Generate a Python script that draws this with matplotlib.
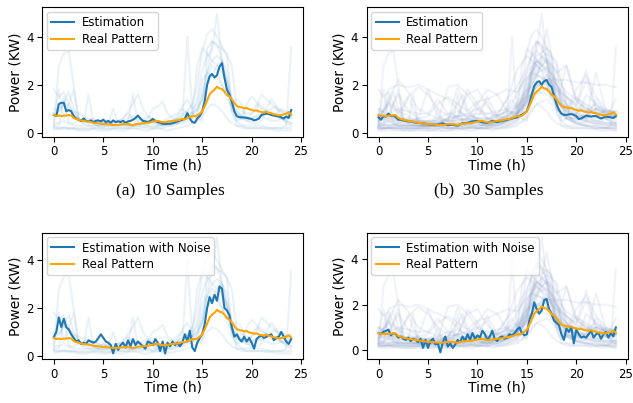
import numpy as np
import matplotlib
matplotlib.use("Agg")
import matplotlib.pyplot as plt

# time axes: 15-min steps for estimates, 30-min / hourly for raw samples
hours_q = np.arange(97) * 0.25
hours_h = np.arange(49) * 0.5
hours_1 = np.arange(25) * 1.0

real_pattern = [
    0.75, 0.70, 0.72, 0.70, 0.72, 0.72, 0.74, 0.73, 0.62, 0.58, 0.55, 0.52,
    0.50, 0.48, 0.47, 0.45, 0.42, 0.41, 0.40, 0.38, 0.36, 0.37, 0.36, 0.34,
    0.33, 0.34, 0.33, 0.35, 0.36, 0.37, 0.37, 0.35, 0.32, 0.36, 0.38, 0.39,
    0.40, 0.41, 0.42, 0.44, 0.47, 0.49, 0.50, 0.47, 0.45, 0.44, 0.46, 0.48,
    0.50, 0.51, 0.52, 0.55, 0.58, 0.57, 0.62, 0.65, 0.70, 0.69, 0.72, 0.80,
    0.90, 1.10, 1.35, 1.60, 1.72, 1.80, 1.92, 1.85, 1.82, 1.72, 1.58, 1.52,
    1.40, 1.25, 1.12, 1.08, 1.06, 1.02, 1.04, 0.98, 0.96, 0.92, 0.94, 0.89,
    0.87, 0.84, 0.88, 0.83, 0.82, 0.77, 0.76, 0.73, 0.74, 0.77, 0.80, 0.86,
    0.77,
]

est_10 = [
    0.75, 0.70, 1.20, 1.25, 1.25, 0.90, 0.95, 0.90, 0.70, 0.60, 0.55, 0.50,
    0.60, 0.50, 0.48, 0.52, 0.45, 0.50, 0.52, 0.48, 0.55, 0.45, 0.50, 0.42,
    0.52, 0.45, 0.48, 0.45, 0.50, 0.42, 0.48, 0.50, 0.55, 0.62, 0.72, 0.60,
    0.50, 0.48, 0.45, 0.50, 0.58, 0.50, 0.45, 0.42, 0.38, 0.37, 0.38, 0.38,
    0.40, 0.44, 0.48, 0.52, 0.55, 0.60, 0.82, 0.60, 0.45, 0.42, 0.60, 0.70,
    0.90, 1.30, 2.00, 2.35, 2.45, 2.30, 2.40, 2.75, 2.90, 2.30, 1.80, 1.60,
    1.30, 0.90, 0.70, 0.65, 0.65, 0.64, 0.63, 0.60, 0.58, 0.52, 0.55, 0.60,
    0.75, 0.78, 0.80, 0.78, 0.75, 0.72, 0.70, 0.68, 0.65, 0.60, 0.68, 0.62,
    0.95,
]

est_30 = [
    0.65, 0.55, 0.70, 0.68, 0.80, 0.70, 0.72, 0.65, 0.55, 0.55, 0.52, 0.50,
    0.48, 0.47, 0.45, 0.43, 0.42, 0.41, 0.40, 0.38, 0.36, 0.35, 0.35, 0.34,
    0.35, 0.38, 0.40, 0.36, 0.32, 0.33, 0.35, 0.32, 0.30, 0.36, 0.40, 0.41,
    0.42, 0.45, 0.48, 0.49, 0.50, 0.47, 0.45, 0.43, 0.42, 0.46, 0.50, 0.47,
    0.45, 0.48, 0.50, 0.52, 0.55, 0.57, 0.60, 0.62, 0.65, 0.70, 0.75, 0.82,
    0.90, 1.20, 1.60, 1.95, 2.10, 2.15, 2.00, 2.15, 2.20, 2.00, 1.90, 1.55,
    1.20, 0.95, 0.80, 0.75, 0.75, 0.77, 0.78, 0.75, 0.70, 0.58, 0.60, 0.66,
    0.72, 0.70, 0.68, 0.70, 0.70, 0.65, 0.60, 0.64, 0.68, 0.66, 0.65, 0.62,
    0.70,
]

est_10_noise = [
    0.80, 1.00, 1.60, 1.20, 1.55, 1.20, 1.10, 0.90, 0.75, 0.60, 0.65, 0.50,
    0.55, 0.50, 0.65, 0.60, 0.55, 0.60, 0.75, 0.90, 0.75, 0.60, 0.55, 0.45,
    0.10, 0.50, 0.25, 0.45, 0.55, 0.35, 0.65, 0.40, 0.70, 0.45, 0.60, 0.50,
    0.40, 0.30, 0.60, 0.55, 0.45, 0.70, 0.55, 0.20, 0.60, 0.10, 0.55, 0.40,
    0.60, 0.45, 0.55, 0.40, 0.55, 0.90, 0.60, 1.05, 0.35, 0.20, 0.55, 0.75,
    0.90, 1.30, 2.00, 2.45, 2.20, 2.55, 2.30, 2.90, 2.80, 2.00, 1.90, 1.70,
    1.20, 0.80, 0.90, 0.70, 0.60, 0.80, 0.60, 0.75, 0.55, 0.30, 0.70, 0.80,
    0.85, 0.75, 0.80, 0.85, 0.90, 0.65, 0.75, 0.80, 1.00, 0.80, 0.60, 0.50,
    0.70,
]

est_30_noise = [
    0.75, 0.70, 0.80, 0.85, 0.90, 0.65, 0.75, 0.70, 0.55, 0.60, 0.50, 0.45,
    0.55, 0.40, 0.50, 0.45, 0.35, 0.50, 0.10, 0.45, 0.10, 0.40, 0.50, 0.25,
    0.30, -0.10, 0.35, 0.60, 0.15, 0.30, 0.10, 0.25, 0.45, 0.35, 0.60, 0.40,
    0.70, 0.45, 0.75, 0.50, 0.65, 0.55, 0.85, 0.70, 0.45, 0.60, 0.85, 0.50,
    0.40, 0.55, 0.60, 0.50, 0.55, 0.70, 0.65, 0.75, 0.90, 1.00, 0.75, 0.65,
    0.70, 1.30, 1.60, 2.10, 1.80, 1.60, 1.75, 2.20, 2.25, 1.80, 1.60, 1.30,
    1.20, 1.10, 0.70, 0.45, 0.95, 0.80, 1.00, 0.30, 0.90, 0.70, 0.55, 0.60,
    0.55, 0.70, 0.85, 0.55, 0.70, 0.75, 0.50, 0.70, 0.80, 0.55, 0.75, 0.60,
    1.00,
]

# first 10 household samples (half-hour readings)
samples_10 = [
    [0.3, 2.8, 3.3, 3.4, 2.0, 0.6, 0.4, 0.3, 0.3, 0.3, 0.25, 0.3,
     0.3, 0.3, 0.35, 0.3, 0.3, 0.3, 0.4, 0.5, 0.4, 0.3, 0.3, 0.4,
     0.5, 0.6, 0.5, 0.6, 0.8, 1.0, 1.8, 2.5, 3.0, 3.2, 3.0, 2.6,
     1.2, 0.8, 0.7, 0.6, 0.6, 0.7, 0.8, 0.9, 0.8, 0.7, 0.6, 0.5, 0.4],
    [1.8, 1.5, 1.7, 1.2, 0.8, 0.6, 0.5, 0.4, 0.4, 0.3, 0.3, 0.3,
     0.3, 0.3, 0.3, 0.3, 0.3, 0.4, 0.4, 0.5, 0.5, 0.4, 0.4, 0.5,
     0.5, 0.6, 0.7, 0.9, 1.2, 2.0, 3.4, 4.1, 4.3, 4.0, 3.6, 3.2,
     2.8, 1.0, 0.6, 0.5, 0.5, 0.6, 0.7, 0.8, 0.9, 0.7, 0.6, 0.5, 0.4],
    [0.2, 0.2, 0.25, 0.2, 0.2, 0.2, 0.2, 0.2, 0.2, 0.2, 0.2, 0.2,
     0.2, 0.2, 0.2, 0.2, 0.2, 0.2, 0.2, 0.3, 0.2, 0.2, 0.2, 0.3,
     0.3, 0.4, 0.6, 4.0, 0.8, 0.6, 0.5, 3.5, 3.8, 3.6, 3.5, 3.3,
     1.0, 0.3, 0.2, 0.2, 0.2, 0.2, 0.2, 0.2, 0.2, 0.2, 0.2, 0.3, 3.55],
    [0.5, 1.8, 0.6, 1.2, 1.8, 0.5, 0.4, 1.6, 0.4, 0.3, 0.5, 0.4,
     1.0, 0.4, 0.3, 0.4, 1.6, 0.4, 0.3, 0.4, 0.5, 0.4, 0.3, 0.4,
     0.5, 0.4, 0.5, 0.6, 0.7, 1.5, 2.6, 3.2, 3.4, 4.95, 3.0, 2.0,
     0.8, 0.5, 0.6, 1.2, 1.5, 1.3, 1.1, 0.9, 0.7, 0.8, 1.0, 0.9, 0.6],
    [1.0, 0.9, 1.3, 1.1, 0.9, 0.8, 0.7, 0.6, 0.5, 0.5, 0.4, 0.4,
     0.4, 0.5, 0.6, 0.9, 1.2, 1.6, 1.0, 0.7, 0.5, 0.4, 0.5, 0.6,
     0.7, 0.8, 1.1, 1.4, 1.0, 1.2, 2.2, 2.5, 2.4, 2.3, 2.0, 1.6,
     1.3, 1.1, 0.9, 0.8, 0.8, 1.0, 1.6, 1.4, 1.2, 1.0, 0.9, 0.8, 0.7],
    [0.25, 0.2, 0.2, 0.2, 0.2, 0.15, 0.15, 0.15, 0.2, 0.2, 0.15, 0.15,
     0.2, 0.2, 0.2, 0.2, 0.3, 0.3, 0.25, 0.2, 0.2, 0.3, 0.3, 0.35,
     0.4, 0.4, 0.5, 0.6, 0.9, 2.8, 3.5, 3.3, 3.0, 2.8, 2.5, 2.2,
     1.5, 0.5, 0.3, 0.3, 0.3, 0.3, 0.3, 0.25, 0.2, 0.2, 0.2, 0.2, 0.2],
    [0.7, 0.9, 1.2, 1.7, 1.0, 0.6, 0.5, 0.5, 0.6, 0.5, 0.4, 0.5,
     0.5, 0.5, 0.6, 0.8, 0.6, 0.5, 0.6, 0.7, 0.6, 0.5, 0.4, 0.5,
     0.5, 0.6, 0.8, 0.9, 0.8, 1.0, 1.4, 2.0, 2.4, 2.8, 3.0, 2.2,
     1.0, 0.7, 0.6, 0.6, 0.8, 1.2, 1.0, 0.9, 1.0, 1.1, 0.9, 0.8, 0.9],
    [0.4, 0.4, 0.5, 0.4, 0.4, 0.5, 0.6, 0.5, 0.4, 0.4, 0.5, 0.4,
     0.4, 0.5, 0.5, 0.6, 0.7, 0.6, 0.5, 0.6, 1.0, 1.1, 1.3, 0.8,
     0.6, 0.7, 1.0, 0.8, 0.6, 0.9, 1.5, 2.2, 2.8, 2.6, 2.0, 1.4,
     1.1, 0.9, 0.7, 0.6, 0.6, 0.7, 0.7, 0.6, 0.5, 0.5, 0.6, 0.6, 0.7],
    [0.3, 0.3, 1.5, 0.4, 0.3, 0.3, 0.3, 0.3, 0.3, 0.3, 0.3, 0.3,
     0.3, 0.3, 0.4, 0.3, 0.3, 0.3, 0.4, 0.3, 0.3, 0.3, 0.4, 0.3,
     0.3, 0.4, 0.4, 0.5, 0.6, 0.8, 1.4, 2.5, 3.8, 3.7, 3.0, 1.9,
     1.3, 1.4, 1.2, 0.5, 0.4, 0.4, 0.5, 1.0, 1.4, 1.1, 0.6, 0.4, 0.3],
    [0.15, 0.15, 0.2, 0.15, 0.15, 0.1, 0.1, 0.1, 0.15, 0.1, 0.1, 0.1,
     0.15, 0.1, 0.1, 0.15, 0.2, 0.15, 0.1, 0.1, 0.15, 0.2, 0.15, 0.1,
     0.15, 0.2, 0.25, 0.3, 0.4, 0.5, 0.7, 1.0, 1.2, 1.1, 0.9, 0.6,
     0.4, 0.3, 0.3, 0.2, 0.2, 0.2, 0.2, 0.15, 0.15, 0.1, 0.1, 0.1, 0.1],
]

# 20 extra samples used for the 30-sample panels (hourly readings)
samples_extra = [
    [0.3, 1.8, 2.0, 1.9, 2.0, 1.8, 1.6, 1.4, 1.0, 0.6, 0.5, 0.4, 0.5, 0.6, 0.8, 1.2, 2.0, 2.2, 2.2, 2.2, 2.1, 2.1, 2.0, 2.0, 1.9],
    [0.5, 0.8, 1.6, 0.9, 0.6, 1.8, 0.7, 0.5, 1.9, 0.8, 0.6, 1.5, 0.7, 0.9, 1.6, 2.5, 3.0, 2.7, 2.0, 1.2, 0.8, 0.6, 1.0, 0.8, 0.6],
    [0.2, 0.2, 0.3, 0.2, 0.2, 0.2, 0.3, 0.2, 0.2, 0.3, 0.2, 0.2, 0.3, 0.4, 0.6, 1.5, 3.2, 3.5, 2.0, 0.6, 0.4, 0.3, 0.3, 0.2, 0.2],
    [0.6, 1.2, 0.8, 1.5, 1.9, 1.6, 1.0, 0.7, 0.6, 1.8, 1.2, 0.6, 0.5, 0.7, 1.0, 1.8, 2.6, 3.0, 2.5, 2.8, 1.4, 0.9, 1.2, 0.8, 0.7],
    [0.4, 0.5, 0.4, 0.4, 0.3, 0.3, 0.3, 0.4, 0.3, 0.3, 0.4, 0.3, 0.4, 0.5, 0.7, 2.0, 2.9, 3.3, 3.0, 1.2, 0.6, 0.5, 0.4, 0.4, 0.4],
    [1.0, 0.7, 0.6, 0.5, 0.5, 0.4, 0.5, 1.9, 2.0, 1.6, 1.0, 0.6, 0.5, 0.6, 1.1, 1.6, 2.4, 2.2, 1.8, 1.5, 1.2, 2.6, 1.0, 0.8, 0.8],
    [0.3, 0.3, 0.3, 0.3, 0.3, 0.3, 0.3, 0.3, 0.4, 0.5, 0.6, 0.6, 0.8, 1.4, 1.9, 2.7, 3.8, 3.2, 1.8, 0.7, 0.5, 0.4, 0.4, 0.3, 0.3],
    [0.5, 1.4, 2.2, 1.7, 1.0, 0.8, 0.6, 0.5, 0.5, 0.6, 1.2, 1.8, 1.6, 0.9, 0.8, 1.3, 1.9, 2.1, 1.3, 0.9, 0.7, 0.6, 2.5, 0.9, 0.7],
    [0.2, 0.2, 0.2, 0.2, 0.2, 0.3, 0.3, 0.2, 0.2, 0.2, 0.3, 0.3, 0.3, 0.3, 0.5, 1.0, 1.6, 1.8, 1.5, 1.0, 0.7, 0.5, 0.4, 0.3, 0.3],
    [0.7, 0.6, 0.6, 0.5, 0.6, 0.7, 1.2, 1.5, 1.2, 0.9, 1.3, 1.4, 1.6, 1.8, 1.7, 2.3, 2.8, 3.1, 2.6, 1.5, 1.1, 0.9, 0.8, 0.7, 0.7],
    [0.3, 0.3, 0.4, 0.3, 0.3, 0.3, 0.3, 0.4, 0.6, 0.5, 0.4, 0.3, 0.4, 0.5, 0.8, 1.3, 2.2, 4.3, 2.0, 1.0, 0.6, 0.5, 0.5, 0.4, 0.3],
    [0.8, 0.7, 0.6, 0.6, 0.5, 0.5, 0.5, 0.6, 0.7, 0.7, 0.8, 0.8, 0.9, 1.0, 1.2, 1.8, 2.0, 1.9, 1.2, 2.8, 1.3, 1.0, 0.8, 0.9, 0.9],
    [0.2, 0.2, 0.2, 0.2, 0.2, 0.2, 0.2, 0.2, 0.2, 0.2, 0.2, 0.2, 0.2, 0.2, 0.3, 0.6, 1.2, 1.4, 1.0, 0.6, 0.4, 0.3, 0.3, 0.2, 0.2],
    [0.6, 0.5, 0.5, 1.5, 0.5, 0.4, 0.4, 0.5, 0.5, 0.6, 0.5, 0.6, 0.7, 1.4, 2.6, 3.2, 2.8, 2.4, 1.8, 1.2, 0.8, 0.7, 0.6, 0.6, 1.4],
    [0.3, 0.4, 0.3, 0.3, 0.3, 0.3, 0.4, 0.3, 0.4, 0.4, 0.3, 0.4, 0.4, 0.5, 0.8, 1.6, 2.5, 2.7, 2.2, 1.7, 1.4, 1.2, 0.9, 0.7, 0.5],
    [0.5, 0.6, 0.5, 0.4, 0.4, 0.3, 0.4, 0.5, 0.7, 1.6, 1.8, 1.1, 0.7, 0.6, 0.9, 2.2, 3.0, 2.6, 1.4, 0.9, 1.8, 2.4, 1.5, 1.0, 0.8],
    [0.1, 0.1, 0.1, 0.1, 0.1, 0.1, 0.1, 0.1, 0.1, 0.2, 0.2, 0.2, 0.2, 0.3, 0.5, 1.2, 2.0, 2.4, 1.6, 0.8, 0.4, 0.3, 0.2, 0.2, 0.1],
    [0.9, 0.8, 1.0, 0.9, 0.8, 0.8, 1.4, 0.8, 0.7, 0.8, 1.0, 0.8, 0.7, 0.9, 1.1, 1.5, 1.7, 1.6, 1.3, 1.1, 1.0, 0.9, 1.0, 0.9, 0.9],
    [0.4, 0.3, 0.3, 0.3, 0.3, 0.3, 0.3, 0.4, 0.4, 0.4, 0.5, 0.5, 0.5, 0.5, 0.7, 1.7, 3.4, 2.9, 2.0, 1.4, 0.9, 0.6, 0.5, 0.4, 0.4],
    [0.6, 0.6, 0.5, 0.5, 0.5, 0.5, 0.6, 0.8, 0.9, 0.7, 0.6, 0.6, 0.6, 0.7, 0.9, 1.4, 1.9, 2.3, 2.0, 1.5, 1.1, 2.2, 1.0, 0.8, 0.7],
]

est_labels = ["Estimation", "Estimation", "Estimation with Noise", "Estimation with Noise"]
captions = ["(a)  10 Samples", "(b)  30 Samples"]

plt.rcParams["font.family"] = "DejaVu Sans"
plt.rcParams["font.size"] = 10

fig = plt.figure(figsize=(6.33, 4.03), dpi=100)

# [left, bottom, width, height] in figure fraction
boxes = [
    [0.0664, 0.660, 0.4123, 0.322],
    [0.5793, 0.660, 0.4123, 0.322],
    [0.0664, 0.108, 0.4123, 0.3146],
    [0.5793, 0.108, 0.4123, 0.3146],
]
ylims = [(-0.17, 5.22), (-0.17, 5.22), (-0.15, 5.14), (-0.41, 5.16)]
estimates = [est_10, est_30, est_10_noise, est_30_noise]

for i, box in enumerate(boxes):
    ax = fig.add_axes(box)
    many = i in (1, 3)
    bg_color = "#7f96c4" if many else "#1f77b4"
    bg_alpha = 0.12 if many else 0.09
    for s in samples_10:
        ax.plot(hours_h, s, color=bg_color, alpha=bg_alpha, lw=1.5)
    if many:
        for s in samples_extra:
            ax.plot(hours_1, s, color=bg_color, alpha=bg_alpha, lw=1.5)
    ax.plot(hours_q, estimates[i], color="#1f77b4", lw=1.5, label=est_labels[i])
    ax.plot(hours_q, real_pattern, color="orange", lw=1.5, label="Real Pattern")
    ax.set_xlim(-1.2, 25.2)
    ax.set_ylim(*ylims[i])
    ax.set_xticks([0, 5, 10, 15, 20, 25])
    ax.set_yticks([0, 2, 4])
    ax.tick_params(labelsize=8.5, length=3.5, pad=2.5)
    ax.set_xlabel("Time (h)", fontsize=10, labelpad=0)
    ax.set_ylabel("Power (KW)", fontsize=10, labelpad=3)
    ax.legend(loc="upper left", fontsize=8.5, borderaxespad=0.4,
              handlelength=2.0, handletextpad=0.6, borderpad=0.35, labelspacing=0.3)

fig.text(0.269, 0.526, captions[0], ha="center", va="center",
         family="Liberation Serif", fontsize=12.5)
fig.text(0.772, 0.526, captions[1], ha="center", va="center",
         family="Liberation Serif", fontsize=12.5)

fig.savefig("out.png", dpi=100)
